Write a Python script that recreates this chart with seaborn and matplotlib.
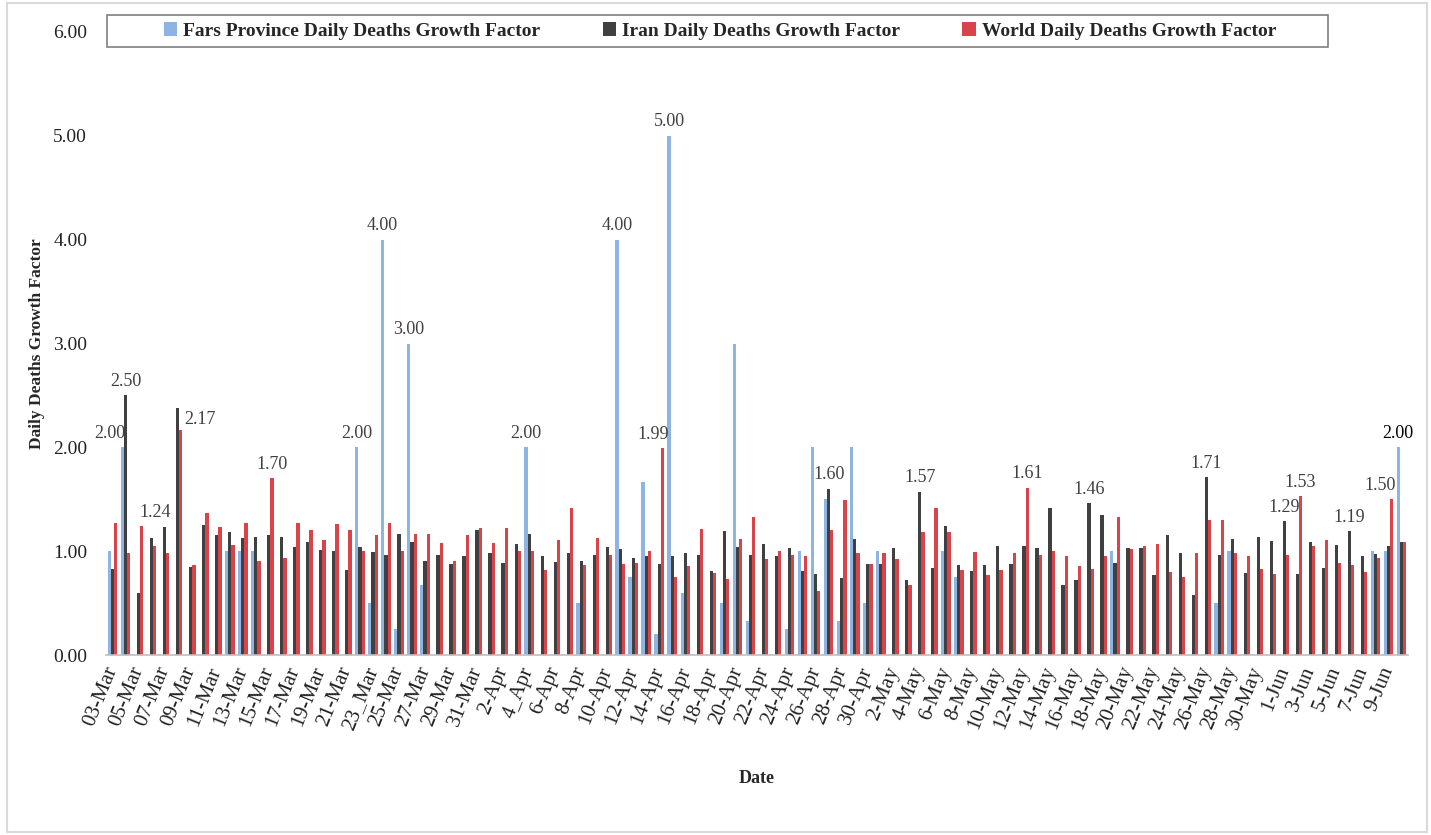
import pandas as pd
import matplotlib
matplotlib.use('Agg')
import matplotlib.pyplot as plt
from matplotlib.patches import Rectangle
import seaborn as sns

# --- data ---
dates = list(pd.date_range("2020-03-03", periods=100).strftime("%d-%b"))

tick_labels = [
    "03-Mar", "05-Mar", "07-Mar", "09-Mar", "11-Mar", "13-Mar", "15-Mar", "17-Mar",
    "19-Mar", "21-Mar", "23_Mar", "25-Mar", "27-Mar", "29-Mar", "31-Mar",
    "2-Apr", "4_Apr", "6-Apr", "8-Apr", "10-Apr", "12-Apr", "14-Apr", "16-Apr",
    "18-Apr", "20-Apr", "22-Apr", "24-Apr", "26-Apr", "28-Apr", "30-Apr",
    "2-May", "4-May", "6-May", "8-May", "10-May", "12-May", "14-May", "16-May",
    "18-May", "20-May", "22-May", "24-May", "26-May", "28-May", "30-May",
    "1-Jun", "3-Jun", "5-Jun", "7-Jun", "9-Jun",
]

fars = [
    1.00, 2.00, 0, 0, 0, 0, 0, 0, 0, 1.00,
    1.00, 1.00, 0, 0, 0, 0, 0, 0, 0, 2.00,
    0.50, 4.00, 0.25, 3.00, 0.67, 0, 0, 0, 0, 0,
    0, 0, 2.00, 0, 0, 0, 0.50, 0, 0, 4.00,
    0.75, 1.67, 0.20, 5.00, 0.60, 0, 0, 0.50, 3.00, 0.33,
    0, 0, 0.25, 1.00, 2.00, 1.50, 0.33, 2.00, 0.50, 1.00,
    0, 0, 0, 0, 1.00, 0.75, 0, 0, 0, 0,
    0, 0, 0, 0, 0, 0, 0, 1.00, 0, 0,
    0, 0, 0, 0, 0, 0.50, 1.00, 0, 0, 0,
    0, 0, 0, 0, 0, 0, 0, 1.00, 1.00, 2.00,
]

iran = [
    0.83, 2.50, 0.60, 1.13, 1.23, 2.38, 0.85, 1.25, 1.16, 1.18,
    1.13, 1.14, 1.16, 1.14, 1.04, 1.09, 1.01, 1.00, 0.82, 1.04,
    0.99, 0.96, 1.17, 1.09, 0.91, 0.96, 0.88, 0.95, 1.20, 0.98,
    0.89, 1.07, 1.17, 0.95, 0.90, 0.98, 0.91, 0.96, 1.04, 1.02,
    0.93, 0.95, 0.88, 0.95, 0.98, 0.96, 0.81, 1.19, 1.04, 0.96,
    1.07, 0.95, 1.03, 0.81, 0.78, 1.60, 0.74, 1.12, 0.88, 0.88,
    1.03, 0.72, 1.57, 0.84, 1.24, 0.87, 0.81, 0.87, 1.05, 0.88,
    1.05, 1.03, 1.42, 0.67, 0.72, 1.46, 1.35, 0.89, 1.03, 1.03,
    0.77, 1.16, 0.98, 0.58, 1.71, 0.96, 1.12, 0.79, 1.14, 1.10,
    1.29, 0.78, 1.09, 0.84, 1.06, 1.19, 0.95, 0.97, 1.05, 1.09,
]

world = [
    1.27, 0.98, 1.24, 1.05, 0.98, 2.17, 0.87, 1.37, 1.23, 1.06,
    1.27, 0.91, 1.70, 0.93, 1.27, 1.20, 1.11, 1.26, 1.20, 1.00,
    1.16, 1.27, 1.00, 1.17, 1.17, 1.08, 0.91, 1.16, 1.22, 1.08,
    1.22, 1.00, 1.00, 0.82, 1.11, 1.42, 0.87, 1.13, 0.96, 0.88,
    0.89, 1.00, 1.99, 0.75, 0.86, 1.21, 0.79, 0.73, 1.12, 1.33,
    0.92, 1.00, 0.96, 0.95, 0.62, 1.20, 1.49, 0.98, 0.88, 0.98,
    0.92, 0.67, 1.18, 1.42, 1.18, 0.82, 0.99, 0.77, 0.82, 0.98,
    1.61, 0.96, 1.00, 0.95, 0.86, 0.83, 0.95, 1.33, 1.02, 1.05,
    1.07, 0.80, 0.75, 0.98, 1.30, 1.30, 0.98, 0.95, 0.83, 0.78,
    0.96, 1.53, 1.05, 1.11, 0.89, 0.87, 0.80, 0.93, 1.50, 1.09,
]

series_names = [
    "Fars Province Daily Deaths Growth Factor",
    "Iran Daily Deaths Growth Factor",
    "World Daily Deaths Growth Factor",
]

# bars carrying a value label: (series position, category position)
labelled = [
    (0, 1), (1, 1), (2, 2), (2, 5), (2, 12), (0, 19), (0, 21), (0, 23),
    (0, 32), (0, 39), (2, 42), (0, 43), (1, 55), (1, 62), (2, 70), (1, 75),
    (1, 84), (1, 90), (2, 91), (1, 95), (2, 98), (0, 99),
]

# --- style ---
sns.set_theme(style="white")
plt.rcParams['font.family'] = ['Liberation Serif', 'DejaVu Serif']
colors = ["#8DB4E2", "#404040", "#D9434A"]
text_grey = "#404040"
label_nudge = {(0, 1): (-12, 14), (2, 2): (13, 14), (2, 5): (19, 10),
               (2, 42): (-9, 14), (2, 98): (-12, 14)}

df = pd.DataFrame({
    "date": dates * 3,
    "series": [n for n in series_names for _ in dates],
    "value": fars + iran + world,
})

fig = plt.figure(figsize=(14.31, 8.35), dpi=100)
ax = fig.add_axes([106 / 1431, 180 / 835, 1302 / 1431, 623 / 835])

sns.barplot(data=df, x="date", y="value", hue="series", order=dates,
            hue_order=series_names, palette=colors, width=0.75,
            errorbar=None, linewidth=0, saturation=1, ax=ax)

ax.set_ylim(0, 6)
ax.set_xlim(-0.5, len(dates) - 0.5)
ax.set_yticks([0, 1, 2, 3, 4, 5, 6])
ax.set_yticklabels([f"{v:.2f}" for v in range(7)], fontsize=14, color="#222222")
ax.set_xticks(range(0, len(dates), 2))
ax.set_xticklabels(tick_labels, rotation=68, ha="right", va="center",
                   rotation_mode="anchor", fontsize=15, color="#222222")
ax.tick_params(axis="y", length=0, pad=13.5)
ax.tick_params(axis="x", length=0, pad=9)

for side in ["left", "right", "top"]:
    ax.spines[side].set_visible(False)
ax.spines["bottom"].set_color("#BFBFBF")
ax.spines["bottom"].set_linewidth(1.2)

ax.set_ylabel("Daily Deaths Growth Factor", fontsize=12.5, fontweight="bold",
              labelpad=6)
ax.set_xlabel("Date", fontsize=13, fontweight="bold", labelpad=27)

# value labels
all_series = [fars, iran, world]
bar_w = 0.75 / 3
for s, i in labelled:
    v = all_series[s][i]
    x = i + (s - 1) * bar_w
    dx, dy = label_nudge.get((s, i), (0, 14))
    last = (s, i) == labelled[-1]
    ax.annotate(f"{v:.2f}", xy=(x, v), xytext=(dx, dy), textcoords="offset pixels",
                ha="center", va="center", fontsize=13,
                color="black" if last else text_grey)

# legend in a framed box across the top
handles, labels = ax.get_legend_handles_labels()
ax.get_legend().remove()
fig.legend(handles, labels, loc="center", bbox_to_anchor=(720 / 1431, 1 - 31 / 835),
           ncol=3, frameon=False, handlelength=0.7, handleheight=0.7,
           handletextpad=0.3, columnspacing=3.2,
           prop={"size": 14, "weight": "bold"})
fig.patches.append(Rectangle((107 / 1431, 1 - 47 / 835), 1221 / 1431, 32 / 835,
                             transform=fig.transFigure, fill=False,
                             ec="#7F7F7F", lw=1.2))
# chart-area border
fig.patches.append(Rectangle((7 / 1431, 3 / 835), 1420 / 1431, 829 / 835,
                             transform=fig.transFigure, fill=False,
                             ec="#D9D9D9", lw=1.5))

fig.savefig("out.png", dpi=100)
plt.close(fig)
